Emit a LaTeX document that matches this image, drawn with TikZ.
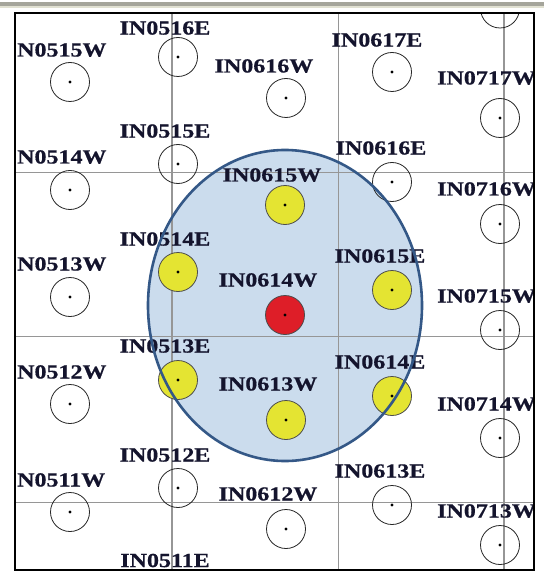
\documentclass[tikz,border=0pt]{standalone}
\usepackage{fontspec}
\newfontfamily\labfont{Liberation Serif}[FakeStretch=1.2,FakeBold=0.6]
\definecolor{labcol}{RGB}{20,20,45}
\definecolor{siteyellow}{RGB}{228,228,50}
\definecolor{sitered}{RGB}{222,30,40}
\definecolor{zonefill}{RGB}{203,220,237}
\definecolor{zoneedge}{RGB}{52,88,135}
\definecolor{gridcol}{RGB}{150,150,150}
\definecolor{barcol}{RGB}{165,165,155}
\definecolor{barlight}{RGB}{225,225,210}
\begin{document}
\begin{tikzpicture}[x=1pt,y=-1pt,
  site/.style={circle,draw=black!85,line width=0.8pt,minimum size=39pt,inner sep=0pt},
  yel/.style={site,fill=siteyellow,draw=black!70},
  redsite/.style={site,fill=sitered,draw=black!70},
  lab/.style={font=\labfont\bfseries\fontsize{20}{20}\selectfont,text=labcol,inner sep=0pt},
  gridline/.style={draw=gridcol,line width=1.2pt}]
\useasboundingbox (0,0) rectangle (544,572);
% top bar
\fill[barcol] (0,2.5) rectangle (544,6);
\fill[barlight] (0,6) rectangle (544,8.5);
% frame corners
\coordinate (fTL) at (15,13);
\coordinate (fBR) at (534,570);
\begin{scope}
\clip (fTL) rectangle (fBR);
\fill[white] (fTL) rectangle (fBR);
% coverage zone fill
\fill[zonefill] (285,305.5) ellipse [x radius=137, y radius=155.5];
% grid
\foreach \gx in {172,338.5,504} \draw[gridline] (\gx,13) -- (\gx,570);
\foreach \gy in {172.5,336.5,502.5} \draw[gridline] (15,\gy) -- (534,\gy);
% sites
\node[site] (s0515W) at (70,82) {};
\node[site] (s0516E) at (178,57) {};
\node[site] (s0616W) at (286,98) {};
\node[site] (s0617E) at (392,72) {};
\node[site] (s0717W) at (500,118) {};
\node[site] (s0718W) at (500,8.5) {};
\node[site] (s0515E) at (178,164) {};
\node[site] (s0514W) at (70,190) {};
\node[yel]  (s0615W) at (285,205) {};
\node[site] (s0616E) at (392,182) {};
\node[site] (s0716W) at (500,224) {};
\node[site] (s0513W) at (70,297) {};
\node[yel]  (s0514E) at (178,272) {};
\node[redsite] (s0614W) at (285,315) {};
\node[yel]  (s0615E) at (392,290) {};
\node[site] (s0715W) at (500,330) {};
\node[yel]  (s0513E) at (178,380) {};
\node[site] (s0512W) at (70,404) {};
\node[yel]  (s0613W) at (286,420) {};
\node[yel]  (s0614E) at (392,396) {};
\node[site] (s0714W) at (500,438) {};
\node[site] (s0512E) at (178,488) {};
\node[site] (s0511W) at (70,512) {};
\node[site] (s0612W) at (286,529) {};
\node[site] (s0613E) at (392,505) {};
\node[site] (s0713W) at (500,545) {};
\foreach \n in {s0515W,s0516E,s0616W,s0617E,s0717W,s0718W,s0515E,s0514W,s0615W,s0616E,s0716W,s0513W,s0514E,s0614W,s0615E,s0715W,s0513E,s0512W,s0613W,s0614E,s0714W,s0512E,s0511W,s0612W,s0613E,s0713W}
  \fill[black] (\n) circle (1.6);
% labels
\node[lab,anchor=west] (l0515W) at (17,50) {N0515W};
\node[lab] (l0516E) at (165,28) {IN0516E};
\node[lab] (l0616W) at (264,66) {IN0616W};
\node[lab] (l0617E) at (377,40) {IN0617E};
\node[lab,anchor=west] (l0717W) at (437,78) {IN0717W};
\node[lab] (l0515E) at (165,131) {IN0515E};
\node[lab,anchor=west] (l0514W) at (17,157) {N0514W};
\node[lab] (l0615W) at (272,175) {IN0615W};
\node[lab] (l0616E) at (381,148) {IN0616E};
\node[lab,anchor=west] (l0716W) at (437,189) {IN0716W};
\node[lab,anchor=west] (l0513W) at (17,264) {N0513W};
\node[lab] (l0514E) at (165,239) {IN0514E};
\node[lab] (l0614W) at (268,280) {IN0614W};
\node[lab] (l0615E) at (380,256) {IN0615E};
\node[lab,anchor=west] (l0715W) at (437,296) {IN0715W};
\node[lab] (l0513E) at (165,346) {IN0513E};
\node[lab,anchor=west] (l0512W) at (17,372) {N0512W};
\node[lab] (l0613W) at (268,384) {IN0613W};
\node[lab] (l0614E) at (380,362) {IN0614E};
\node[lab,anchor=west] (l0714W) at (437,404) {IN0714W};
\node[lab] (l0512E) at (165,455) {IN0512E};
\node[lab,anchor=west] (l0511W) at (17,480) {N0511W};
\node[lab] (l0612W) at (268,494) {IN0612W};
\node[lab] (l0613E) at (380,471) {IN0613E};
\node[lab,anchor=west] (l0713W) at (437,511) {IN0713W};
\node[lab] (l0511E) at (165,560.5) {IN0511E};
% coverage zone edge
\draw[zoneedge,line width=2.6pt] (285,305.5) ellipse [x radius=137, y radius=155.5];
\end{scope}
% frame
\draw[black,line width=2pt] (fTL) rectangle (fBR);
\end{tikzpicture}
\end{document}
